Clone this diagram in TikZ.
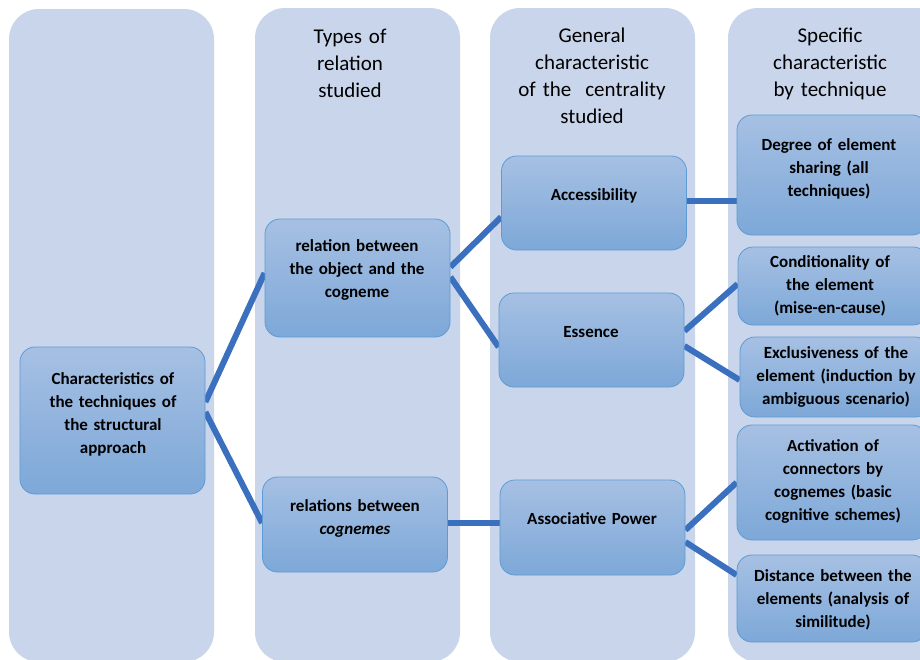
\documentclass[tikz,border=0pt]{standalone}
\usepackage{fontspec}
\setmainfont{Carlito}
\usetikzlibrary{backgrounds}
\definecolor{colbg}{HTML}{C9D5EA}
\definecolor{boxtop}{HTML}{A6C0E3}
\definecolor{boxbot}{HTML}{7DA8D8}
\definecolor{boxline}{HTML}{5D9BD6}
\definecolor{connblue}{HTML}{3A70BE}

\begin{document}
\begin{tikzpicture}[x=1pt, y=-1pt,
  column/.style={fill=colbg, rounded corners=30pt},
  item/.style={rectangle, rounded corners=15pt, draw=boxline, line width=0.8pt,
    top color=boxtop, bottom color=boxbot, minimum width=185pt, inner sep=0pt},
  itemtext/.style={anchor=base, text width=200pt, align=center, inner sep=0pt,
    font=\fontsize{17}{23}\selectfont\bfseries},
  heading/.style={anchor=base, text width=200pt, align=center, inner sep=0pt,
    font=\fontsize{21}{27}\selectfont},
  conn/.style={draw=connblue, line width=6pt}]
\useasboundingbox (0,0) rectangle (920,659);

% columns
\begin{scope}[on background layer]
\fill[column] (9,9) rectangle (214,662);
\fill[column] (255,8) rectangle (460,662);
\fill[column] (490,8) rectangle (695,662);
\fill[column] (728,8) rectangle (960,662);
\end{scope}

% headings
\node[heading] (hd2) at (350,43) {Types of\\relation\\studied};
\node[heading] (hd3) at (592,42) {General\\characteristic\\of the~ centrality\\studied};
\node[heading] (hd4) at (830,42) {Specific\\characteristic\\by technique};

% boxes
\node[item, minimum height=147pt] (root) at (112.5,420.5) {};
\node[item, minimum height=118pt] (rel1) at (357.5,278) {};
\node[item, minimum height=95pt]  (rel2) at (355,524.5) {};
\node[item, minimum height=94pt]  (acc)  at (594,203) {};
\node[item, minimum height=94pt]  (ess)  at (591.5,340) {};
\node[item, minimum height=95pt]  (asp)  at (592.5,527.5) {};
\node[item, minimum width=190pt, minimum height=120pt] (deg)  at (832,175) {};
\node[item, minimum width=190pt, minimum height=78pt]  (cond) at (833,286) {};
\node[item, minimum width=190pt, minimum height=80pt]  (excl) at (835,377) {};
\node[item, minimum width=190pt, minimum height=115pt] (act)  at (832,482.5) {};
\node[item, minimum width=190pt, minimum height=87pt]  (dist) at (832,598.5) {};

% texts
\node[itemtext] (root-t) at (113,384) {Characteristics of\\the techniques of\\the structural\\approach};
\node[itemtext] (rel1-t) at (357,251) {relation between\\the object and the\\cogneme};
\node[itemtext] (rel2-t) at (355,511) {relations between\\\textit{cognemes}};
\node[itemtext] (acc-t)  at (594,200) {Accessibility};
\node[itemtext] (ess-t)  at (591,337) {Essence};
\node[itemtext] (asp-t)  at (592,524) {Associative Power};
\node[itemtext] (deg-t)  at (829,150) {Degree of element\\sharing (all\\techniques)};
\node[itemtext] (cond-t) at (830,267) {Conditionality of\\the element\\(mise-en-cause)};
\node[itemtext] (excl-t) at (836,358) {Exclusiveness of the\\element (induction by\\ambiguous scenario)};
\node[itemtext] (act-t)  at (833,451) {Activation of\\connectors by\\cognemes (basic\\cognitive schemes)};
\node[itemtext] (dist-t) at (833,581) {Distance between the\\elements (analysis of\\similitude)};

% links
\begin{scope}[on background layer]
\draw[conn] ([yshift=18.5pt]root.east) -- ([yshift=5pt]rel1.west);
\draw[conn] ([yshift=8.5pt]root.east) -- ([yshift=1.5pt]rel2.west);
\draw[conn] ([yshift=11pt]rel1.east) -- ([yshift=-14pt]acc.west);
\draw[conn] ([yshift=1pt]rel1.east) -- ([yshift=-7pt]ess.west);
\draw[conn] ([yshift=2pt]rel2.east) -- ([yshift=2pt]rel2.east -| asp.west);
\draw[conn] ([yshift=2pt]acc.east) -- ([yshift=2pt]acc.east -| deg.west);
\draw[conn] ([yshift=9pt]ess.east) -- ([yshift=2pt]cond.west);
\draw[conn] ([yshift=-6pt]ess.east) -- ([yshift=-3pt]excl.west);
\draw[conn] ([yshift=-2.5pt]asp.east) -- ([yshift=0pt]act.west);
\draw[conn] ([yshift=-14.5pt]asp.east) -- ([yshift=23.5pt]dist.west);
\end{scope}
\end{tikzpicture}
\end{document}
